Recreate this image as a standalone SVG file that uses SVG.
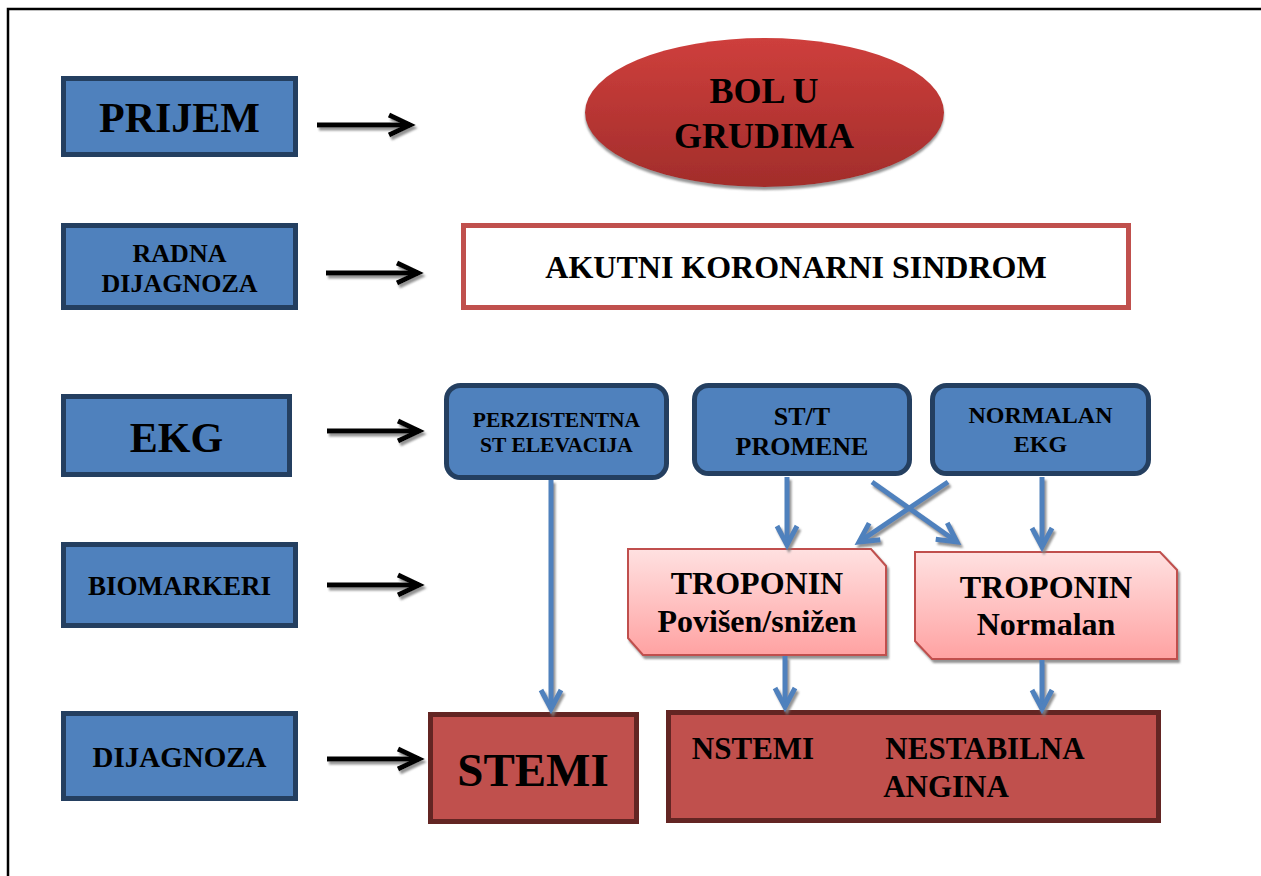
<svg xmlns="http://www.w3.org/2000/svg" width="1261" height="876" viewBox="0 0 1261 876">
<defs>
<style>
.t{font-family:"Liberation Serif","Times New Roman",serif;font-weight:bold;fill:#000;text-anchor:middle}
.lbox{fill:#4F81BD;stroke:#243F60;stroke-width:5}
.ekg{fill:#4F81BD;stroke:#243F60;stroke-width:5}
.trop{fill:url(#gTrop);stroke:#C0504D;stroke-width:2}
.diag{fill:#C0504D;stroke:#632523;stroke-width:5}
.blk{stroke:#000;stroke-width:5;fill:none;marker-end:url(#mBlk)}
.blu{stroke:#4F81BD;stroke-width:5;fill:none;marker-end:url(#mBlu)}
</style>
<linearGradient id="gEll" x1="0" y1="0" x2="0" y2="1">
<stop offset="0" stop-color="#CE3F3C"/>
<stop offset="1" stop-color="#A22D2B"/>
</linearGradient>
<linearGradient id="gTrop" x1="0" y1="0" x2="0" y2="1">
<stop offset="0" stop-color="#FFE1E1"/>
<stop offset="1" stop-color="#FFA2A2"/>
</linearGradient>
<filter id="sh" x="-20%" y="-20%" width="140%" height="160%">
<feDropShadow dx="2" dy="3" stdDeviation="0.8" flood-color="#808080" flood-opacity="0.85"/>
</filter>
<filter id="shE" x="-10%" y="-10%" width="120%" height="130%">
<feDropShadow dx="0" dy="3" stdDeviation="1" flood-color="#8a8a8a" flood-opacity="0.9"/>
</filter>
<marker id="mBlk" markerUnits="userSpaceOnUse" viewBox="-30 -15 36 30" markerWidth="36" markerHeight="30" refX="0" refY="0" orient="auto" overflow="visible">
<path d="M-21,-10 L0,0 L-21,10" fill="none" stroke="#000" stroke-width="5"/>
</marker>
<marker id="mBlu" markerUnits="userSpaceOnUse" viewBox="-30 -15 36 30" markerWidth="36" markerHeight="30" refX="0" refY="0" orient="auto" overflow="visible">
<path d="M-19,-10 L0,0 L-19,10" fill="none" stroke="#4F81BD" stroke-width="5"/>
</marker>
</defs>
<rect x="0" y="0" width="1261" height="876" fill="#fff"/>
<path d="M8,876 L8,9 L1261,9" fill="none" stroke="#000" stroke-width="2.5"/>

<g id="prijem"><rect class="lbox" x="63.5" y="78.5" width="232" height="76"/><text class="t" x="179.5" y="132" font-size="42">PRIJEM</text></g>
<g id="radna"><rect class="lbox" x="63.5" y="225.5" width="232" height="82"/><text class="t" x="179.5" y="262" font-size="26">RADNA</text><text class="t" x="179.5" y="292" font-size="26">DIJAGNOZA</text></g>
<g id="ekg"><rect class="lbox" x="63.5" y="396.5" width="226" height="78"/><text class="t" x="176.5" y="452" font-size="42">EKG</text></g>
<g id="biomarkeri"><rect class="lbox" x="63.5" y="544.5" width="232" height="81"/><text class="t" x="179.5" y="595" font-size="27">BIOMARKERI</text></g>
<g id="dijagnoza"><rect class="lbox" x="63.5" y="713.5" width="232" height="85"/><text class="t" x="179.5" y="767" font-size="29">DIJAGNOZA</text></g>

<g id="bol"><ellipse cx="764.5" cy="112.5" rx="179.5" ry="74.5" fill="url(#gEll)" filter="url(#shE)"/><text class="t" x="764" y="103" font-size="36">BOL U</text><text class="t" x="764" y="148" font-size="36">GRUDIMA</text></g>
<g id="aks"><rect x="463.5" y="225.5" width="665" height="82" fill="#fff" stroke="#C0504D" stroke-width="5"/><text class="t" x="796" y="278" font-size="32">AKUTNI KORONARNI SINDROM</text></g>

<g id="perz"><rect class="ekg" x="446.5" y="385.5" width="220" height="92" rx="14"/><text class="t" x="556.5" y="427" font-size="21.5">PERZISTENTNA</text><text class="t" x="556.5" y="452" font-size="21.5">ST ELEVACIJA</text></g>
<g id="stt"><rect class="ekg" x="694.5" y="385.5" width="215" height="88" rx="14"/><text class="t" x="802" y="425" font-size="26">ST/T</text><text class="t" x="802" y="455" font-size="26">PROMENE</text></g>
<g id="normekg"><rect class="ekg" x="932.5" y="385.5" width="216" height="88" rx="14"/><text class="t" x="1040.5" y="423" font-size="24">NORMALAN</text><text class="t" x="1040.5" y="452" font-size="24">EKG</text></g>

<g id="trop1"><polygon class="trop" filter="url(#sh)" points="628,549 871,549 886,566 886,655 643,655 628,638"/><text class="t" x="757" y="594" font-size="32">TROPONIN</text><text class="t" x="757" y="632" font-size="32">Povišen/snižen</text></g>
<g id="trop2"><polygon class="trop" filter="url(#sh)" points="915,552 1160,552 1177,570 1177,659 932,659 915,641"/><text class="t" x="1046" y="598" font-size="32">TROPONIN</text><text class="t" x="1046" y="635" font-size="32">Normalan</text></g>

<g id="stemi"><rect class="diag" x="430.5" y="714.5" width="206" height="107"/><text class="t" x="533" y="786" font-size="47">STEMI</text></g>
<g id="nstemi"><rect class="diag" x="668.5" y="712.5" width="490" height="108"/><text class="t" x="753" y="759" font-size="31">NSTEMI</text><text class="t" x="985" y="759" font-size="31">NESTABILNA</text><text class="t" x="946" y="797" font-size="31">ANGINA</text></g>

<g id="connectors">
<g filter="url(#sh)">
<line class="blk" x1="317" y1="125" x2="410" y2="125"/>
<line class="blk" x1="326" y1="273" x2="418" y2="273"/>
<line class="blk" x1="327" y1="431" x2="419" y2="431"/>
<line class="blk" x1="327" y1="585" x2="419" y2="585"/>
<line class="blk" x1="327" y1="759" x2="419" y2="759"/>
</g>
<g filter="url(#sh)">
<line class="blu" x1="551" y1="480" x2="551" y2="709"/>
<line class="blu" x1="787" y1="477" x2="787" y2="545"/>
<line class="blu" x1="872" y1="482" x2="957" y2="542"/>
<line class="blu" x1="948" y1="482" x2="859" y2="542"/>
<line class="blu" x1="1042" y1="477" x2="1042" y2="547"/>
<line class="blu" x1="785" y1="656" x2="785" y2="707"/>
<line class="blu" x1="1042" y1="660" x2="1042" y2="709"/>
</g>
</g>
</svg>
